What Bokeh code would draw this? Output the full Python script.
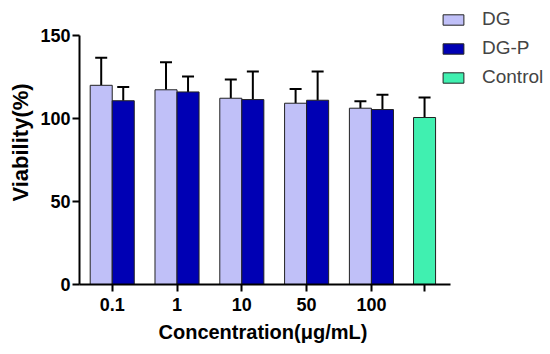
from bokeh.plotting import figure
from bokeh.models import (Range1d, FixedTicker, Whisker, TeeHead, ColumnDataSource,
                          Legend, LegendItem, Title)
from bokeh.embed import file_html
from bokeh.resources import INLINE
import numpy as np

# ---- data ----
categories = ["0.1", "1", "10", "50", "100"]
dg_mean = [120.0, 117.3, 112.2, 109.2, 106.2]
dg_sd = [16.6, 16.6, 11.3, 8.5, 4.2]
dgp_mean = [110.7, 116.0, 111.4, 111.0, 105.4]
dgp_sd = [8.3, 9.3, 16.9, 17.3, 8.9]
control_mean = [100.6]
control_sd = [12.1]
y_ticks = [0, 50, 100, 150]

# ---- layout constants ----
FONT = "Liberation Sans"
BAR_W = 0.34
CONTROL_POS = 4.82
X_AXIS_END = 5.22
C_DG = "#C0C0F8"
C_DGP = "#0000B4"
C_CTRL = "#40F0B0"
EDGE = "#222222"

xg = np.arange(len(categories), dtype=float)

src_dg = ColumnDataSource(dict(x=xg - BAR_W / 2, top=dg_mean,
                               upper=np.array(dg_mean) + np.array(dg_sd)))
src_dgp = ColumnDataSource(dict(x=xg + BAR_W / 2, top=dgp_mean,
                                upper=np.array(dgp_mean) + np.array(dgp_sd)))
src_c = ColumnDataSource(dict(x=[CONTROL_POS], top=control_mean,
                              upper=np.array(control_mean) + np.array(control_sd)))

W, H = 550, 354
LEFT, BOTTOM = 79, 70
frame_w = W - LEFT
frame_h = H - BOTTOM
px_x, px_y = 64.8, 1.66

p = figure(width=W, height=H, output_backend="svg", toolbar_location=None,
           x_range=Range1d(-0.505, -0.505 + frame_w / px_x),
           y_range=Range1d(0, frame_h / px_y),
           min_border_left=LEFT, min_border_right=0, min_border_top=0,
           min_border_bottom=BOTTOM)
p.outline_line_color = None
p.xgrid.visible = False
p.ygrid.visible = False

for src in (src_dg, src_dgp, src_c):
    p.add_layout(Whisker(source=src, base="x", upper="upper", lower="top",
                         dimension="height", line_width=2, line_color="black",
                         upper_head=TeeHead(size=12, line_width=2, line_color="black"),
                         lower_head=None))

r_dg = p.vbar(x="x", top="top", width=BAR_W, bottom=0, source=src_dg,
              fill_color=C_DG, line_color=EDGE, line_width=1)
r_dgp = p.vbar(x="x", top="top", width=BAR_W, bottom=0, source=src_dgp,
               fill_color=C_DGP, line_color=EDGE, line_width=1)
r_c = p.vbar(x="x", top="top", width=BAR_W, bottom=0, source=src_c,
             fill_color=C_CTRL, line_color=EDGE, line_width=1)

# axes
xticks = list(xg) + [CONTROL_POS]
p.xaxis.ticker = FixedTicker(ticks=xticks)
overrides = {float(v): lab for v, lab in zip(xg, categories)}
overrides[CONTROL_POS] = ""
p.xaxis.major_label_overrides = overrides
p.xaxis.bounds = (-0.505, X_AXIS_END)
p.yaxis.ticker = FixedTicker(ticks=y_ticks)
p.yaxis.bounds = (0, 150)

for ax in (p.xaxis, p.yaxis):
    ax.axis_line_width = 2
    ax.axis_line_color = "black"
    ax.major_tick_line_width = 2
    ax.major_tick_line_color = "black"
    ax.major_tick_out = 7
    ax.major_tick_in = 0
    ax.minor_tick_line_color = None
    ax.major_label_text_font = FONT
    ax.major_label_text_font_style = "bold"
    ax.major_label_text_font_size = "18px"
    ax.major_label_text_color = "black"
    ax.axis_label_text_font = FONT
    ax.axis_label_text_font_style = "bold"
    ax.axis_label_text_color = "black"

p.xaxis.major_label_standoff = 6
p.yaxis.axis_label = "Viability(%)"
p.yaxis.axis_label_text_font_size = "22px"
p.yaxis.major_label_standoff = 2
p.yaxis.axis_label_standoff = 4

# x-axis title, centred under the drawn axis line (not the whole frame)
xtitle = Title(text="Concentration(μg/mL)", align="left", offset=79, standoff=11,
               text_font=FONT, text_font_style="bold", text_font_size="20px",
               text_color="black")
p.add_layout(xtitle, "below")

legend = Legend(items=[LegendItem(label="DG", renderers=[r_dg]),
                       LegendItem(label="DG-P", renderers=[r_dgp]),
                       LegendItem(label="Control", renderers=[r_c])],
                location=(361, 196), border_line_alpha=0, background_fill_alpha=0,
                padding=0, margin=0, spacing=7, glyph_width=26, glyph_height=13,
                label_standoff=16, label_text_font=FONT, label_text_font_size="19px",
                label_height=20)
p.add_layout(legend)

open("out.html", "w").write(file_html(p, INLINE))
